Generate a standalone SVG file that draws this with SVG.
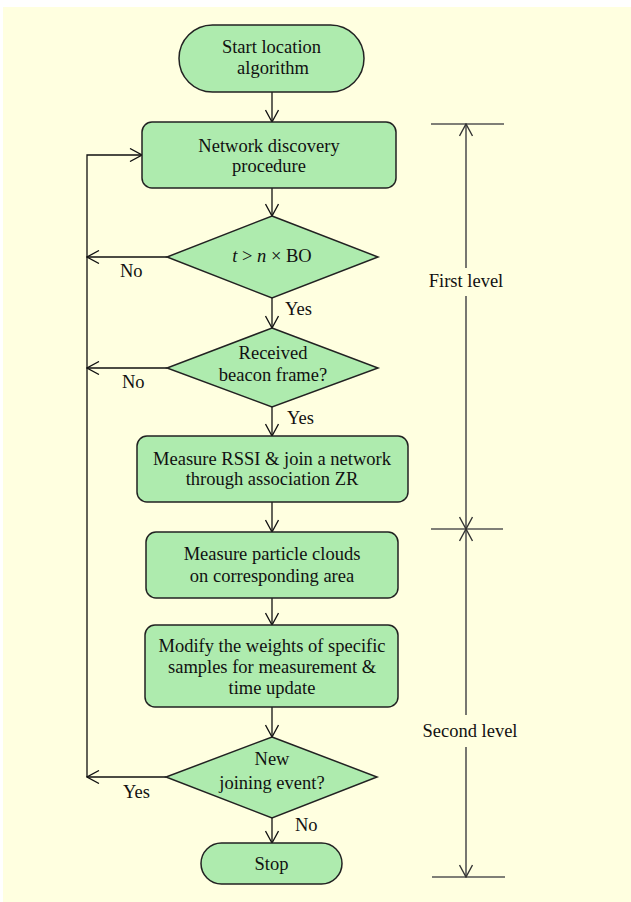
<svg xmlns="http://www.w3.org/2000/svg" width="631" height="902" viewBox="0 0 631 902">
<style>
.node{fill:#AEEBAE;stroke:#222;stroke-width:1.5}
.t{font-family:"Liberation Serif","Times New Roman",serif;font-size:18.5px;fill:#111;text-anchor:middle}
.lbl{font-family:"Liberation Serif","Times New Roman",serif;font-size:18.5px;fill:#111}
.flow{fill:none;stroke:#111;stroke-width:1.3}
.lvl{fill:none;stroke:#555;stroke-width:1.6}
</style>
<defs>
<marker id="arr" viewBox="0 0 14 14" markerWidth="14" markerHeight="14" refX="13" refY="7" orient="auto" markerUnits="userSpaceOnUse">
<path d="M1,0.5 L13,7 L1,13.5" fill="none" stroke="#111" stroke-width="1.3"/>
</marker>
<marker id="arrL" viewBox="0 0 14 14" markerWidth="14" markerHeight="14" refX="13" refY="7" orient="auto-start-reverse" markerUnits="userSpaceOnUse">
<path d="M1,0.5 L13,7 L1,13.5" fill="none" stroke="#333" stroke-width="1.4"/>
</marker>
</defs>
<rect x="3" y="7" width="628" height="895" fill="#FFFFE0"/>

<g id="connectors">
<path class="flow" d="M272,92 V122" marker-end="url(#arr)"/>
<path class="flow" d="M272,188 V216" marker-end="url(#arr)"/>
<path class="flow" d="M272,298 V328" marker-end="url(#arr)"/>
<path class="flow" d="M272,407 V436" marker-end="url(#arr)"/>
<path class="flow" d="M272,502 V532" marker-end="url(#arr)"/>
<path class="flow" d="M272,598 V625" marker-end="url(#arr)"/>
<path class="flow" d="M272,707 V737" marker-end="url(#arr)"/>
<path class="flow" d="M272,818 V843" marker-end="url(#arr)"/>
<path class="flow" d="M167,257 H87" marker-end="url(#arr)"/>
<path class="flow" d="M167,368 H87" marker-end="url(#arr)"/>
<path class="flow" d="M166,777 H87" marker-end="url(#arr)"/>
<path class="flow" d="M87,777 V155 H142" marker-end="url(#arr)"/>
<text class="lbl" x="120" y="277">No</text>
<text class="lbl" x="285" y="315">Yes</text>
<text class="lbl" x="122" y="388">No</text>
<text class="lbl" x="287" y="424">Yes</text>
<text class="lbl" x="123" y="798">Yes</text>
<text class="lbl" x="295" y="831">No</text>
</g>

<g id="levels">
<path class="lvl" d="M431,124 H504"/>
<path class="lvl" d="M431,529 H503"/>
<path class="lvl" d="M432,877 H505"/>
<path class="lvl" d="M466,124 V268" marker-start="url(#arrL)"/>
<path class="lvl" d="M466,296 V529" marker-end="url(#arrL)"/>
<path class="lvl" d="M466,529 V715" marker-start="url(#arrL)"/>
<path class="lvl" d="M466,747 V877" marker-end="url(#arrL)"/>
<text class="t" x="466" y="287">First level</text>
<text class="t" x="470" y="737">Second level</text>
</g>

<g id="start">
<rect class="node" x="179" y="25" width="185" height="67" rx="33.5"/>
<text class="t" x="271.5" y="53">Start location</text>
<text class="t" x="273" y="74">algorithm</text>
</g>

<g id="discovery">
<rect class="node" x="142" y="122" width="254" height="66" rx="10"/>
<text class="t" x="269" y="152">Network discovery</text>
<text class="t" x="269" y="172">procedure</text>
</g>

<g id="timeout">
<polygon class="node" points="272,216 378,257 272,298 167,257"/>
<text class="t" x="272" y="262"><tspan font-style="italic">t</tspan> &gt; <tspan font-style="italic">n</tspan> × BO</text>
</g>

<g id="beacon">
<polygon class="node" points="272,328 378,368 272,407 167,368"/>
<text class="t" x="273" y="359">Received</text>
<text class="t" x="273" y="381">beacon frame?</text>
</g>

<g id="rssi">
<rect class="node" x="137" y="436" width="271" height="66" rx="10"/>
<text class="t" x="272" y="465">Measure RSSI &amp; join a network</text>
<text class="t" x="272" y="485">through association ZR</text>
</g>

<g id="particles">
<rect class="node" x="146" y="532" width="252" height="66" rx="10"/>
<text class="t" x="272" y="560">Measure particle clouds</text>
<text class="t" x="272" y="582">on corresponding area</text>
</g>

<g id="weights">
<rect class="node" x="145" y="625" width="253" height="82" rx="10"/>
<text class="t" x="272" y="652">Modify the weights of specific</text>
<text class="t" x="272" y="673">samples for measurement &amp;</text>
<text class="t" x="272" y="694">time update</text>
</g>

<g id="joining">
<polygon class="node" points="272,737 377,777 272,818 166,777"/>
<text class="t" x="272" y="765">New</text>
<text class="t" x="272" y="789">joining event?</text>
</g>

<g id="stop">
<rect class="node" x="201" y="843" width="141" height="41" rx="20.5"/>
<text class="t" x="271.5" y="870">Stop</text>
</g>
</svg>
